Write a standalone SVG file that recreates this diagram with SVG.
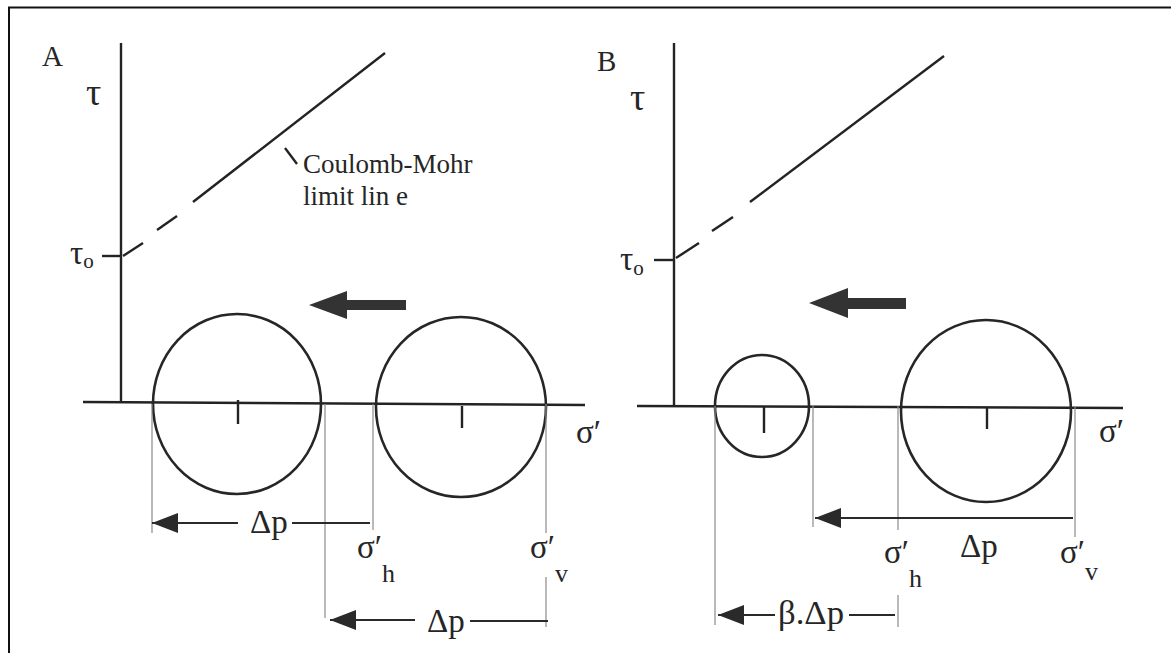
<svg xmlns="http://www.w3.org/2000/svg" width="1171" height="653" viewBox="0 0 1171 653">
<style>
.ax{stroke:#232323;stroke-width:2.4;fill:none;stroke-linecap:butt}
.circ{stroke:#262626;stroke-width:2.6;fill:none}
.thin{stroke:#8a8a8a;stroke-width:1.2;fill:none}
.dim{stroke:#2a2a2a;stroke-width:2;fill:none}
.big{fill:#333333;stroke:none}
text{font-family:"Liberation Serif","Times New Roman",serif;fill:#262626}
.lbl{font-size:29px}
.tau{font-size:38px}
.sig{font-size:33px}
.sub{font-size:26px}
.dp{font-size:33px}
.cm{font-size:27px}
</style>
<defs>
<marker id="ah" markerUnits="userSpaceOnUse" viewBox="0 -10 26 20" markerWidth="26" markerHeight="20" refX="26" refY="0" orient="auto">
<path d="M0,-10 L26,0 L0,10 z" fill="#2a2a2a"/>
</marker>
</defs>
<rect width="1171" height="653" fill="#ffffff"/>
<g id="frame">
<line x1="8" y1="7.5" x2="1171" y2="7.5" stroke="#111" stroke-width="2"/>
<line x1="9" y1="7" x2="9" y2="653" stroke="#111" stroke-width="2"/>
</g>
<g id="panelA-axes">
<text class="lbl" x="42" y="66">A</text>
<line class="ax" x1="121" y1="43" x2="121" y2="403"/>
<line class="ax" x1="83" y1="402" x2="585" y2="405"/>
<line class="ax" x1="102" y1="256" x2="121" y2="256"/>
<text class="tau" x="86" y="105">τ</text>
<text x="70" y="264" font-size="33">τ<tspan font-size="21" dy="4">o</tspan></text>
<text class="sig" x="576" y="443">σ′</text>
</g>
<g id="panelA-limit">
<line class="ax" x1="123" y1="256" x2="143" y2="243"/>
<line class="ax" x1="157" y1="230" x2="177" y2="216"/>
<line class="ax" x1="193" y1="202" x2="385" y2="53"/>
<line class="ax" x1="285" y1="148" x2="297" y2="164"/>
<text class="cm" x="303" y="173">Coulomb-Mohr</text>
<text class="cm" x="303" y="205">limit lin e</text>
</g>
<g id="circleA1">
<ellipse class="circ" cx="237" cy="404" rx="84" ry="90"/>
<line class="ax" x1="238" y1="400" x2="238" y2="424"/>
</g>
<g id="circleA2">
<ellipse class="circ" cx="461" cy="407" rx="85" ry="90"/>
<line class="ax" x1="462" y1="406" x2="462" y2="428"/>
</g>
<g id="shiftA">
<polygon class="big" points="309,305 347,291 347,300 406,300 406,310 347,310 347,319"/>
</g>
<g id="labelsA">
<text class="sig" x="357" y="558">σ′<tspan class="sub" dy="24">h</tspan></text>
<text class="sig" x="530" y="558">σ′<tspan class="sub" dy="24">v</tspan></text>
<text class="dp" x="250" y="533">Δp</text>
<text class="dp" x="427" y="632">Δp</text>
</g>
<g id="panelB-axes">
<text class="lbl" x="597" y="71" font-size="30">B</text>
<line class="ax" x1="674" y1="43" x2="674" y2="407"/>
<line class="ax" x1="637" y1="406" x2="1123" y2="408"/>
<line class="ax" x1="654" y1="260" x2="674" y2="260"/>
<text class="tau" x="630" y="110">τ</text>
<text x="620" y="270" font-size="33">τ<tspan font-size="21" dy="5">o</tspan></text>
<text class="sig" x="1099" y="442">σ′</text>
</g>
<g id="panelB-limit">
<line class="ax" x1="676" y1="258" x2="699" y2="243"/>
<line class="ax" x1="712" y1="231" x2="733" y2="217"/>
<line class="ax" x1="750" y1="202" x2="944" y2="56"/>
</g>
<g id="circleB1">
<ellipse class="circ" cx="762" cy="406" rx="47" ry="51"/>
<line class="ax" x1="764" y1="406" x2="764" y2="433"/>
</g>
<g id="circleB2">
<ellipse class="circ" cx="986" cy="411" rx="85" ry="91"/>
<line class="ax" x1="987" y1="407" x2="987" y2="429"/>
</g>
<g id="shiftB">
<polygon class="big" points="809,303 848,288 848,298 906,298 906,309 848,309 848,318"/>
</g>
<g id="labelsB">
<text class="sig" x="884" y="563">σ′<tspan class="sub" dy="24">h</tspan></text>
<text class="sig" x="1060" y="563">σ′<tspan class="sub" dy="17">v</tspan></text>
<text class="dp" x="960" y="557">Δp</text>
<text class="dp" x="778" y="624" textLength="66" lengthAdjust="spacingAndGlyphs">β.Δp</text>
</g>
<g id="connectors">
<line class="thin" x1="152" y1="404" x2="152" y2="533"/>
<line class="thin" x1="325" y1="404" x2="325" y2="618"/>
<line class="thin" x1="373" y1="404" x2="373" y2="530"/>
<line class="thin" x1="546" y1="404" x2="546" y2="533"/>
<line class="thin" x1="546" y1="577" x2="546" y2="627"/>
<line class="dim" x1="238" y1="523" x2="152" y2="523" marker-end="url(#ah)"/>
<line class="dim" x1="292" y1="523" x2="370" y2="523"/>
<line class="dim" x1="415" y1="620" x2="330" y2="620" marker-end="url(#ah)"/>
<line class="dim" x1="470" y1="621" x2="548" y2="621"/>
<line class="thin" x1="715" y1="406" x2="715" y2="625"/>
<line class="thin" x1="813" y1="406" x2="813" y2="527"/>
<line class="thin" x1="898" y1="406" x2="898" y2="530"/>
<line class="thin" x1="898" y1="595" x2="898" y2="627"/>
<line class="thin" x1="1075" y1="406" x2="1075" y2="537"/>
<line class="dim" x1="1073" y1="518" x2="815" y2="518" marker-end="url(#ah)"/>
<line class="dim" x1="775" y1="615" x2="718" y2="615" marker-end="url(#ah)"/>
<line class="dim" x1="849" y1="615" x2="895" y2="615"/>
</g>
</svg>
